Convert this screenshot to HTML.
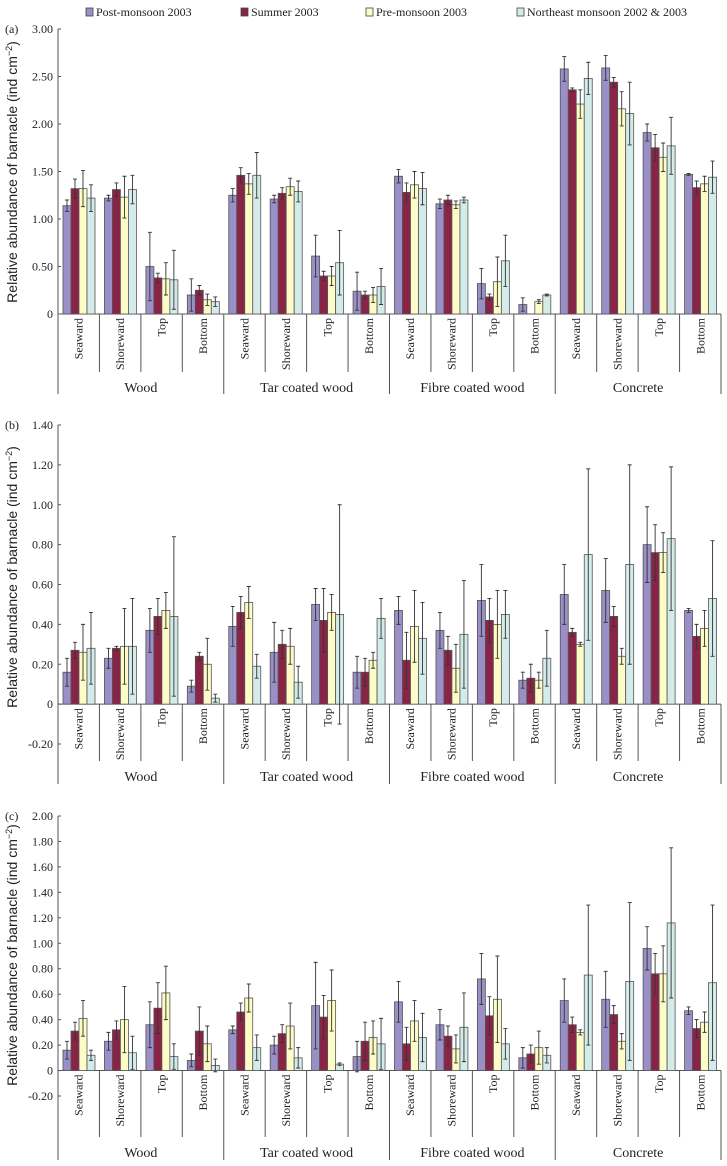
<!DOCTYPE html>
<html><head><meta charset="utf-8"><style>
body{margin:0;background:#fff;}
svg{display:block;}
.t{font-family:"Liberation Serif",serif;fill:#222;}
.s{font-family:"Liberation Sans",sans-serif;fill:#222;}
</style></head><body>
<svg id="chart" width="727" height="1166" viewBox="0 0 727 1166" xmlns="http://www.w3.org/2000/svg">
<g>
 <g><rect x="86" y="8" width="7" height="8" fill="#9a8fc6" stroke="#444" stroke-width="0.8"/><text class="t" x="96" y="16" font-size="12">Post-monsoon 2003</text></g>
 <g><rect x="241" y="8" width="7" height="8" fill="#8a2446" stroke="#444" stroke-width="0.8"/><text class="t" x="251" y="16" font-size="12">Summer 2003</text></g>
 <g><rect x="366" y="8" width="7" height="8" fill="#fdfbc6" stroke="#444" stroke-width="0.8"/><text class="t" x="376" y="16" font-size="12">Pre-monsoon 2003</text></g>
 <g><rect x="517" y="8" width="7" height="8" fill="#d3ebe9" stroke="#444" stroke-width="0.8"/><text class="t" x="527" y="16" font-size="12">Northeast monsoon 2002 &amp; 2003</text></g>
</g>
</svg>
<script>
const groups = ["Wood","Tar coated wood","Fibre coated wood","Concrete"];
const positions = ["Seaward","Shoreward","Top","Bottom"];
const seriesNames = ["Post-monsoon 2003","Summer 2003","Pre-monsoon 2003","Northeast monsoon 2002 & 2003"];

const aPost = [1.14,1.22,0.50,0.20, 1.25,1.21,0.61,0.24, 1.45,1.16,0.32,0.10, 2.58,2.59,1.91,1.47];
const aSum  = [1.32,1.31,0.38,0.25, 1.46,1.27,0.40,0.20, 1.28,1.20,0.18,0.00, 2.36,2.44,1.75,1.33];
const aPre  = [1.32,1.23,0.37,0.15, 1.37,1.34,0.40,0.20, 1.36,1.15,0.34,0.13, 2.21,2.16,1.65,1.37];
const aNE   = [1.22,1.31,0.36,0.13, 1.46,1.29,0.54,0.29, 1.32,1.20,0.56,0.20, 2.48,2.11,1.77,1.44];
const aPostErr = [0.06,0.03,0.36,0.17, 0.07,0.04,0.22,0.20, 0.07,0.05,0.16,0.07, 0.13,0.13,0.09,0.01];
const aSumErr  = [0.10,0.07,0.05,0.05, 0.08,0.06,0.05,0.04, 0.10,0.05,0.03,0.00, 0.02,0.05,0.14,0.07];
const aPreErr  = [0.19,0.22,0.17,0.06, 0.11,0.09,0.10,0.08, 0.14,0.04,0.26,0.02, 0.15,0.18,0.15,0.08];
const aNEErr   = [0.14,0.15,0.31,0.05, 0.24,0.11,0.34,0.19, 0.17,0.03,0.27,0.01, 0.17,0.33,0.30,0.17];

const bPost = [0.16,0.23,0.37,0.09, 0.39,0.26,0.50,0.16, 0.47,0.37,0.52,0.12, 0.55,0.57,0.80,0.47];
const bSum  = [0.27,0.28,0.44,0.24, 0.46,0.30,0.42,0.16, 0.22,0.27,0.42,0.13, 0.36,0.44,0.76,0.34];
const bPre  = [0.26,0.29,0.47,0.20, 0.51,0.29,0.46,0.22, 0.39,0.18,0.40,0.12, 0.30,0.24,0.76,0.38];
const bNE   = [0.28,0.29,0.44,0.03, 0.19,0.11,0.45,0.43, 0.33,0.35,0.45,0.23, 0.75,0.70,0.83,0.53];
const bPostErr = [0.07,0.05,0.11,0.03, 0.10,0.15,0.08,0.08, 0.07,0.09,0.18,0.04, 0.15,0.16,0.19,0.01];
const bSumErr  = [0.04,0.01,0.09,0.02, 0.08,0.07,0.16,0.07, 0.14,0.07,0.11,0.07, 0.02,0.05,0.14,0.06];
const bPreErr  = [0.14,0.19,0.09,0.13, 0.08,0.09,0.09,0.04, 0.18,0.12,0.17,0.04, 0.01,0.04,0.10,0.09];
const bNEErr   = [0.18,0.24,0.40,0.02, 0.06,0.08,0.55,0.10, 0.18,0.27,0.12,0.14, 0.43,0.50,0.36,0.29];

const cPost = [0.16,0.23,0.36,0.08, 0.32,0.20,0.51,0.11, 0.54,0.36,0.72,0.10, 0.55,0.56,0.96,0.47];
const cSum  = [0.31,0.32,0.49,0.31, 0.46,0.29,0.42,0.23, 0.21,0.27,0.43,0.13, 0.36,0.44,0.76,0.33];
const cPre  = [0.41,0.40,0.61,0.21, 0.57,0.35,0.55,0.26, 0.39,0.17,0.56,0.18, 0.30,0.23,0.76,0.38];
const cNE   = [0.12,0.14,0.11,0.04, 0.18,0.10,0.05,0.21, 0.26,0.34,0.21,0.12, 0.75,0.70,1.16,0.69];
const cPostErr = [0.07,0.07,0.18,0.05, 0.03,0.07,0.34,0.12, 0.16,0.12,0.20,0.08, 0.17,0.22,0.17,0.03];
const cSumErr  = [0.07,0.07,0.20,0.19, 0.07,0.07,0.17,0.15, 0.13,0.08,0.15,0.07, 0.06,0.07,0.16,0.07];
const cPreErr  = [0.14,0.26,0.21,0.14, 0.11,0.18,0.24,0.13, 0.16,0.11,0.34,0.13, 0.02,0.06,0.22,0.08];
const cNEErr   = [0.04,0.13,0.10,0.05, 0.10,0.08,0.01,0.20, 0.19,0.27,0.12,0.06, 0.55,0.62,0.59,0.61];

const aTicks = ["0","0.50","1.00","1.50","2.00","2.50","3.00"];
const bTicks = ["-0.20","0","0.20","0.40","0.60","0.80","1.00","1.20","1.40"];
const cTicks = ["-0.20","0","0.20","0.40","0.60","0.80","1.00","1.20","1.40","1.60","1.80","2.00"];

const colors = ["#9a8fc6","#8a2446","#fdfbc6","#d3ebe9"];
const NS = "http://www.w3.org/2000/svg";
const svg = document.getElementById('chart');
function mk(tag, attrs, parent){const e=document.createElementNS(NS,tag);for(const k in attrs)e.setAttribute(k,attrs[k]);parent.appendChild(e);return e;}

const panels = [
 {id:"a", label:"(a)", vals:[aPost,aSum,aPre,aNE], errs:[aPostErr,aSumErr,aPreErr,aNEErr], ticks:aTicks, min:0, max:3, yMin:314, yMax:29, subEnd:372, labY:392, mainEnd:394, titleY:172},
 {id:"b", label:"(b)", vals:[bPost,bSum,bPre,bNE], errs:[bPostErr,bSumErr,bPreErr,bNEErr], ticks:bTicks, min:-0.2, max:1.4, yMin:744, yMax:425, subEnd:761, labY:781, mainEnd:784, titleY:577},
 {id:"c", label:"(c)", vals:[cPost,cSum,cPre,cNE], errs:[cPostErr,cSumErr,cPreErr,cNEErr], ticks:cTicks, min:-0.2, max:2.0, yMin:1096, yMax:816, subEnd:1137, labY:1157, mainEnd:1160, titleY:955}
];
const axX = 58, rightX = 721, sub = (rightX-axX)/16, bw = 8, off = 5;

panels.forEach(p=>{
 const g = mk('g',{},svg);
 
 
 const y = v => p.yMin + (v-p.min)/(p.max-p.min)*(p.yMax-p.yMin);
 const y0 = y(0);
 const pl = mk('text',{x:5,y:p.yMax+4,'font-size':12,class:'t'},g); pl.textContent=p.label;
 
 
 const tt = mk('text',{x:0,y:0,'font-size':14,class:'s','text-anchor':'middle',transform:`translate(17,${p.titleY}) rotate(-90)`},g);
 tt.innerHTML='Relative abundance of barnacle (ind cm<tspan font-size="9" dy="-5">−2</tspan><tspan dy="5">)</tspan>';
 
 
 const ax = mk('line',{x1:axX,x2:axX,y1:p.yMax,y2:p.mainEnd,stroke:'#555','stroke-width':1},g);
 
 
 p.ticks.forEach(t=>{
  const v=parseFloat(t), ty=y(v);
  mk('line',{x1:axX,x2:axX+3,y1:ty,y2:ty,stroke:'#555','stroke-width':1},g);
  const tl=mk('text',{x:axX-5,y:ty+4,'font-size':12,class:'t','text-anchor':'end'},g); tl.textContent=t;
  
  
 });
 const xa = mk('line',{x1:axX,x2:rightX,y1:y0,y2:y0,stroke:'#555','stroke-width':1},g);
 
 
 for(let i=0;i<16;i++){
  const x0=axX+i*sub;
  for(let s=0;s<4;s++){
   const v=p.vals[s][i], e=p.errs[s][i], bx=x0+off+s*bw;
   const r=mk('rect',{x:bx,y:y(v),width:bw,height:Math.max(0,y0-y(v)),fill:colors[s],stroke:'#555','stroke-width':0.8},g);
   
   
   if(e>0){
    const cx=bx+bw/2, t1=y(v+e), t2=y(v-e);
    const eb=mk('path',{d:`M${cx},${t1}V${t2}M${cx-2},${t1}H${cx+2}M${cx-2},${t2}H${cx+2}`,stroke:'#333','stroke-width':0.9,fill:'none'},g);
    
    
   }
  }
  const lx=x0+sub/2;
  const cl=mk('text',{x:0,y:0,'font-size':12,class:'t','text-anchor':'end','dominant-baseline':'central',transform:`translate(${lx},${y0+4}) rotate(-90)`},g);
  cl.textContent=positions[i%4];
  
  
  if(i>0){
   const main=i%4===0;
   mk('line',{x1:x0,x2:x0,y1:y0,y2:main?p.mainEnd:p.subEnd,stroke:'#555','stroke-width':1},g);
  }
 }
 mk('line',{x1:rightX,x2:rightX,y1:y0,y2:p.mainEnd,stroke:'#555','stroke-width':1},g);
 groups.forEach((gn,k)=>{
  const gl=mk('text',{x:axX+(k*4+2)*sub,y:p.labY,'font-size':14,class:'t','text-anchor':'middle'},g);
  gl.textContent=gn;
  
  
 });
});
</script>
</body></html>
